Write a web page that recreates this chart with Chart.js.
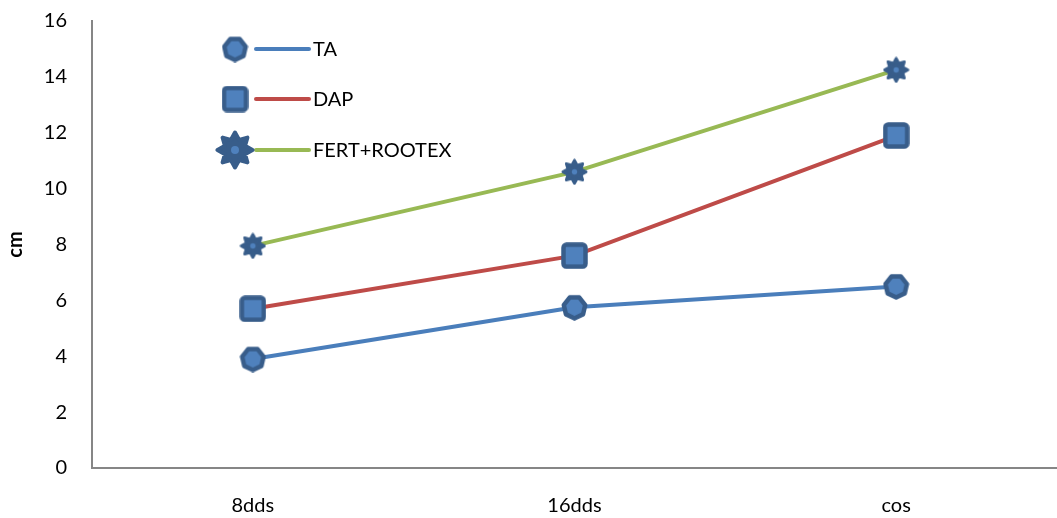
<!DOCTYPE html>
<html>
<head>
<meta charset="utf-8">
<script src="https://cdn.jsdelivr.net/npm/chart.js@4/dist/chart.umd.min.js"></script>
<style>
  html, body { margin: 0; padding: 0; background: #fff; }
  #wrap { width: 1057px; height: 518px; position: relative; }
</style>
</head>
<body>
<div id="wrap"><canvas id="c" width="1057" height="518"></canvas></div>
<script>
// Categories and series (cm)
const categories = ['8dds', '16dds', 'cos'];
const seriesNames = ['TA', 'DAP', 'FERT+ROOTEX'];
const taValues = [3.9, 5.75, 6.5];
const dapValues = [5.7, 7.6, 11.9];
const fertValues = [7.95, 10.6, 14.25];
const yTicks = [0, 2, 4, 6, 8, 10, 12, 14, 16];

const FONT = 'Lato, "Open Sans", "Liberation Sans", sans-serif';
const markerFill = '#4f81bd';
const markerEdge = '#385d8a';

// Marker canvases used as Chart.js point styles
function heptagonMarker(d) {
  const c = document.createElement('canvas');
  c.width = d; c.height = d;
  const g = c.getContext('2d');
  const r = d / 2 - 2.5, cx = d / 2, cy = d / 2;
  g.beginPath();
  for (let i = 0; i < 7; i++) {
    const a = -Math.PI / 2 + Math.PI / 7 + i * 2 * Math.PI / 7;
    const x = cx + r * Math.cos(a), y = cy + r * Math.sin(a);
    i ? g.lineTo(x, y) : g.moveTo(x, y);
  }
  g.closePath();
  g.fillStyle = markerFill; g.fill();
  g.lineWidth = 4.5; g.lineJoin = 'round'; g.strokeStyle = markerEdge; g.stroke();
  return c;
}
function squareMarker(d) {
  const c = document.createElement('canvas');
  c.width = d; c.height = d;
  const g = c.getContext('2d');
  const s = d - 5, o = 2.5;
  g.beginPath();
  g.roundRect(o, o, s, s, 3);
  g.fillStyle = markerFill; g.fill();
  g.lineWidth = 4.5; g.strokeStyle = markerEdge; g.stroke();
  return c;
}
function flowerMarker(d) {
  const c = document.createElement('canvas');
  c.width = d; c.height = d;
  const g = c.getContext('2d');
  const lw = d * 0.1;
  const cx = d / 2, cy = d / 2, R = d / 2 - lw / 2 - 0.5, r = R * 0.62;
  g.beginPath();
  const n = 8;
  for (let i = 0; i < n * 2; i++) {
    const a = -Math.PI / 2 + i * Math.PI / n;
    const rr = i % 2 ? r : R;
    const x = cx + rr * Math.cos(a), y = cy + rr * Math.sin(a);
    i ? g.lineTo(x, y) : g.moveTo(x, y);
  }
  g.closePath();
  g.fillStyle = markerEdge; g.fill();
  g.lineJoin = 'round'; g.lineWidth = lw; g.strokeStyle = markerEdge; g.stroke();
  g.beginPath(); g.arc(cx, cy, d * 0.1, 0, Math.PI * 2);
  g.fillStyle = markerFill; g.fill();
  return c;
}

const plotMarkers = [heptagonMarker(27), squareMarker(27), flowerMarker(27)];
const legendMarkers = [heptagonMarker(27), squareMarker(27), flowerMarker(40)];
const lineColors = ['#4a7ebb', '#be4b48', '#98b954'];
const seriesValues = [taValues, dapValues, fertValues];

// Legend drawn inside the plot, top left
const insideLegend = {
  id: 'insideLegend',
  afterDraw(chart) {
    const g = chart.ctx;
    const rows = [49, 99, 150];
    g.save();
    chart.data.datasets.forEach((ds, i) => {
      const y = rows[i];
      g.strokeStyle = ds.borderColor; g.lineWidth = 4; g.lineCap = 'round';
      g.beginPath(); g.moveTo(256, y); g.lineTo(309, y); g.stroke();
      const m = legendMarkers[i];
      g.drawImage(m, 235 - m.width / 2, y - m.height / 2);
      g.fillStyle = '#000'; g.font = '20px ' + FONT;
      g.textBaseline = 'middle'; g.textAlign = 'left';
      g.fillText(ds.label, 313, y + 1);
    });
    g.restore();
  }
};

new Chart(document.getElementById('c'), {
  type: 'line',
  data: {
    labels: categories,
    datasets: seriesNames.map((name, i) => ({
      label: name,
      data: seriesValues[i],
      borderColor: lineColors[i],
      backgroundColor: lineColors[i],
      borderWidth: 4,
      pointStyle: plotMarkers[i],
      pointRadius: 13,
      pointHoverRadius: 13,
      tension: 0,
      clip: false
    }))
  },
  options: {
    responsive: false,
    animation: false,
    events: [],
    layout: { autoPadding: false, padding: { top: 21, right: 0, left: 0, bottom: 0 } },
    plugins: { legend: { display: false }, tooltip: { enabled: false } },
    scales: {
      x: {
        offset: true,
        grid: { display: false, drawTicks: false },
        border: { color: '#868686', width: 2 },
        ticks: { color: '#000', font: { family: FONT, size: 20 }, padding: 26, maxRotation: 0 },
        afterFit(s) { s.height = 50; s.paddingLeft = 0; s.paddingRight = 0; }
      },
      y: {
        min: 0, max: 16,
        afterBuildTicks(s) { s.ticks = yTicks.map(v => ({ value: v })); },
        grid: { display: false, drawTicks: false },
        border: { color: '#868686', width: 2 },
        ticks: { color: '#000', font: { family: FONT, size: 20 }, padding: 25 },
        title: { display: true, text: 'cm', color: '#000', font: { family: FONT, size: 20, weight: 'bold' }, padding: { top: 4, bottom: 0 } },
        afterFit(s) { s.width = 92; s.paddingTop = 0; s.paddingBottom = 0; }
      }
    }
  },
  plugins: [insideLegend]
});
</script>
</body>
</html>
